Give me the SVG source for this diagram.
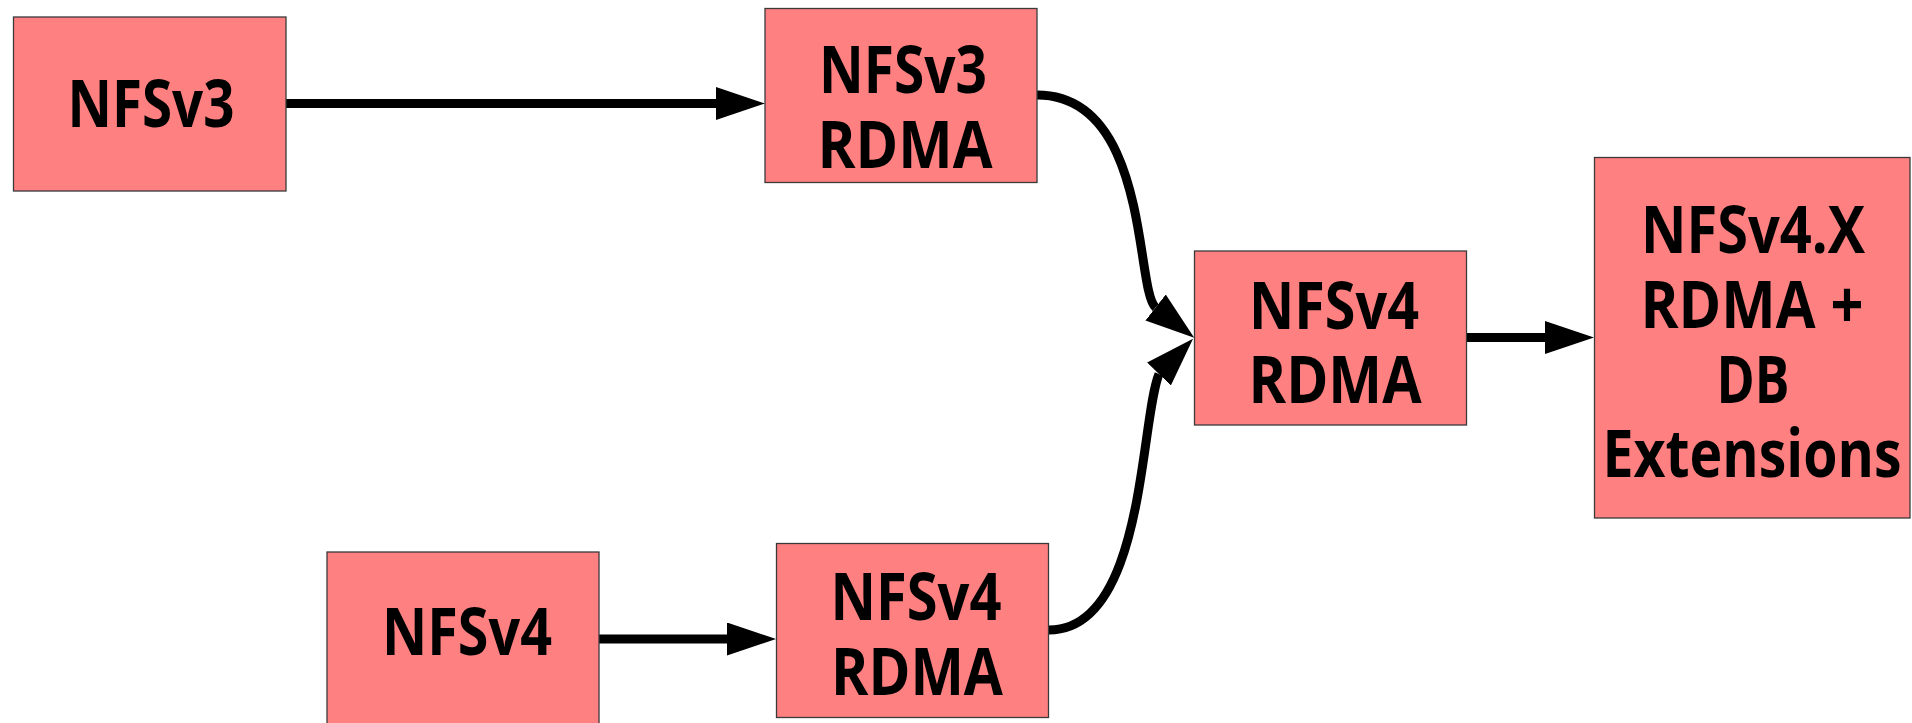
<svg xmlns="http://www.w3.org/2000/svg" width="1912" height="723" viewBox="0 0 1912 723">
  <style>
    .box { fill: #FF8080; stroke: #3a3a3a; stroke-width: 1.3; }
    .lbl { font-family: "Open Sans", "Noto Sans", "Liberation Sans", sans-serif; font-weight: 700; font-size: 67px; fill: #000; text-anchor: middle; }
    .conn { fill: none; stroke: #000; stroke-width: 9; stroke-linecap: butt; }
  </style>
  <defs>
    <marker id="arrow" markerUnits="userSpaceOnUse" markerWidth="49" markerHeight="33" viewBox="0 0 49 33" refX="0" refY="16.5" orient="auto">
      <path d="M0,0 L49,16.5 L0,33 z" fill="#000"/>
    </marker>
    <marker id="arrowDown" markerUnits="userSpaceOnUse" markerWidth="49" markerHeight="33" viewBox="0 0 49 33" refX="0" refY="16.5" orient="38">
      <path d="M0,0 L49,16.5 L0,33 z" fill="#000"/>
    </marker>
    <marker id="arrowUp" markerUnits="userSpaceOnUse" markerWidth="49" markerHeight="33" viewBox="0 0 49 33" refX="0" refY="16.5" orient="-46">
      <path d="M0,0 L49,16.5 L0,33 z" fill="#000"/>
    </marker>
  </defs>
  <rect x="0" y="0" width="1912" height="723" fill="#fff"/>

  <g id="connectors">
    <path class="conn" d="M286,103.5 L716,103.5" marker-end="url(#arrow)"/>
    <path class="conn" d="M1037,95 C1150,95 1135,290 1155.6,307.5" marker-end="url(#arrowDown)"/>
    <path class="conn" d="M1049,630 C1145,630 1140,420 1159,374" marker-end="url(#arrowUp)"/>
    <path class="conn" d="M1466,337.5 L1545,337.5" marker-end="url(#arrow)"/>
    <path class="conn" d="M599,639 L727,639" marker-end="url(#arrow)"/>
  </g>

  <g id="node-nfsv3">
    <rect class="box" x="13.5" y="17" width="272.5" height="174"/>
    <text class="lbl" x="151" y="127" textLength="167" lengthAdjust="spacingAndGlyphs">NFSv3</text>
  </g>
  <g id="node-nfsv3-rdma">
    <rect class="box" x="765" y="8.5" width="272" height="174"/>
    <text class="lbl" x="903" y="93" textLength="168" lengthAdjust="spacingAndGlyphs">NFSv3</text>
    <text class="lbl" x="905" y="168" textLength="175" lengthAdjust="spacingAndGlyphs">RDMA</text>
  </g>
  <g id="node-nfsv4-rdma-mid">
    <rect class="box" x="1194.5" y="251" width="272" height="174"/>
    <text class="lbl" x="1334" y="329" textLength="170" lengthAdjust="spacingAndGlyphs">NFSv4</text>
    <text class="lbl" x="1335" y="403" textLength="173" lengthAdjust="spacingAndGlyphs">RDMA</text>
  </g>
  <g id="node-nfsv4x">
    <rect class="box" x="1594.5" y="157.5" width="315.5" height="360.5"/>
    <text class="lbl" x="1753" y="253" textLength="224" lengthAdjust="spacingAndGlyphs">NFSv4.X</text>
    <text class="lbl" x="1752" y="328" textLength="223" lengthAdjust="spacingAndGlyphs">RDMA +</text>
    <text class="lbl" x="1753" y="403" textLength="73" lengthAdjust="spacingAndGlyphs">DB</text>
    <text class="lbl" x="1752" y="477" textLength="299" lengthAdjust="spacingAndGlyphs">Extensions</text>
  </g>
  <g id="node-nfsv4">
    <rect class="box" x="327" y="552" width="272" height="174"/>
    <text class="lbl" x="467" y="655" textLength="170" lengthAdjust="spacingAndGlyphs">NFSv4</text>
  </g>
  <g id="node-nfsv4-rdma-bottom">
    <rect class="box" x="776.5" y="543.5" width="272" height="174"/>
    <text class="lbl" x="916" y="620" textLength="171" lengthAdjust="spacingAndGlyphs">NFSv4</text>
    <text class="lbl" x="917" y="695" textLength="172" lengthAdjust="spacingAndGlyphs">RDMA</text>
  </g>
</svg>
